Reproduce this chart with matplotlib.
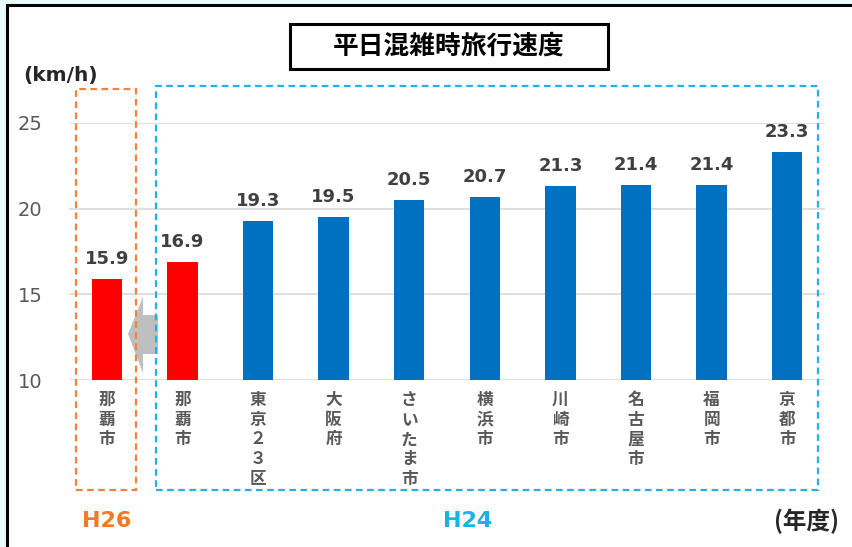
import matplotlib
matplotlib.use("Agg")
import matplotlib.pyplot as plt
from matplotlib.patches import Rectangle, Polygon
from matplotlib.transforms import blended_transform_factory

plt.rcParams['font.family'] = ['Noto Sans CJK JP', 'DejaVu Sans']

categories = ["那覇市", "那覇市", "東京２３区", "大阪府", "さいたま市", "横浜市", "川崎市", "名古屋市", "福岡市", "京都市"]
values = [15.9, 16.9, 19.3, 19.5, 20.5, 20.7, 21.3, 21.4, 21.4, 23.3]
bar_colors = ["#ff0000", "#ff0000", "#0070c0", "#0070c0", "#0070c0", "#0070c0", "#0070c0", "#0070c0", "#0070c0", "#0070c0"]
yticks = [10, 15, 20, 25]
title = "平日混雑時旅行速度"
unit_label = "(km/h)"
year_label = "(年度)"
group_labels = ["H26", "H24"]

W, H = 852, 547
fig = plt.figure(figsize=(W / 100, H / 100), dpi=100)
fig.patch.set_facecolor("#e8fafd")

def fx(px):
    return px / W

def fy(py):
    return 1 - py / H

# white panel with black frame
fig.patches.append(Rectangle((fx(7), fy(560)), fx(860) - fx(7), fy(5) - fy(560),
                             transform=fig.transFigure, facecolor="white",
                             edgecolor="black", linewidth=2.2, zorder=-5))

ax = fig.add_axes([fx(69), fy(380), fx(825) - fx(69), fy(123) - fy(380)])
ax.set_zorder(1)
ax.set_facecolor("none")
x = list(range(len(categories)))
ax.bar(x, [v - 10 for v in values], bottom=10, width=0.4, color=bar_colors, zorder=3)
ax.set_xlim(-0.5, len(categories) - 0.5)
ax.set_ylim(10, 25)
ax.set_yticks(yticks)
ax.set_yticklabels([str(t) for t in yticks], fontsize=14, color="#595959",
                   fontfamily=["DejaVu Sans"])
ax.tick_params(axis="y", length=0, pad=19)
ax.tick_params(axis="x", length=0, labelbottom=False)
for s in ax.spines.values():
    s.set_visible(False)
for t in yticks:
    ax.axhline(t, color="#d9d9d9", linewidth=1.2, zorder=1)

for xi, v in zip(x, values):
    ax.annotate(f"{v:.1f}", (xi, v), xytext=(0, 8), textcoords="offset points",
                ha="center", va="bottom", fontsize=13, fontweight="bold",
                color="#404040", fontfamily=["DejaVu Sans"], annotation_clip=False)

trans = blended_transform_factory(ax.transData, fig.transFigure)
for xi, c in zip(x, categories):
    ax.text(xi, fy(391), "\n".join(c), transform=trans, ha="center", va="top",
            fontsize=12, fontweight="bold", color="#595959", linespacing=1.12)

# dashed group boxes
fig.patches.append(Rectangle((fx(76), fy(490)), fx(136) - fx(76), fy(89) - fy(490),
                             transform=fig.transFigure, fill=False, edgecolor="#f4803a",
                             linewidth=1.6, linestyle=(0, (3, 2)), zorder=5))
fig.patches.append(Rectangle((fx(156), fy(490)), fx(818) - fx(156), fy(86) - fy(490),
                             transform=fig.transFigure, fill=False, edgecolor="#1fb2ea",
                             linewidth=1.6, linestyle=(0, (3, 2)), zorder=5))

# grey arrow
arrow = [(128, 334), (143, 297), (143, 315), (158, 315), (158, 354), (143, 354), (143, 373)]
fig.patches.append(Polygon([(fx(a), fy(b)) for a, b in arrow], closed=True,
                           transform=fig.transFigure, facecolor="#bfbfbf",
                           edgecolor="none", zorder=2))

# title box
fig.patches.append(Rectangle((fx(290), fy(69)), fx(608) - fx(290), fy(24) - fy(69),
                             transform=fig.transFigure, facecolor="white",
                             edgecolor="black", linewidth=2.2, zorder=4))
fig.text(fx(449), fy(46.5), title, ha="center", va="center", fontsize=18.5,
         fontweight="bold", color="black", zorder=6)
fig.text(fx(23), fy(75), unit_label, ha="left", va="center", fontsize=14.5,
         fontweight="bold", color="#262626", fontfamily=["DejaVu Sans"])
fig.text(fx(107), fy(521), group_labels[0], ha="center", va="center", fontsize=16,
         fontweight="bold", color="#f07a28", fontfamily=["DejaVu Sans"])
fig.text(fx(468), fy(521), group_labels[1], ha="center", va="center", fontsize=16,
         fontweight="bold", color="#1ab0e8", fontfamily=["DejaVu Sans"])
fig.text(fx(806), fy(521), year_label, ha="center", va="center", fontsize=17,
         fontweight="bold", color="#262626")

fig.savefig("out.png", dpi=100, facecolor=fig.get_facecolor())
